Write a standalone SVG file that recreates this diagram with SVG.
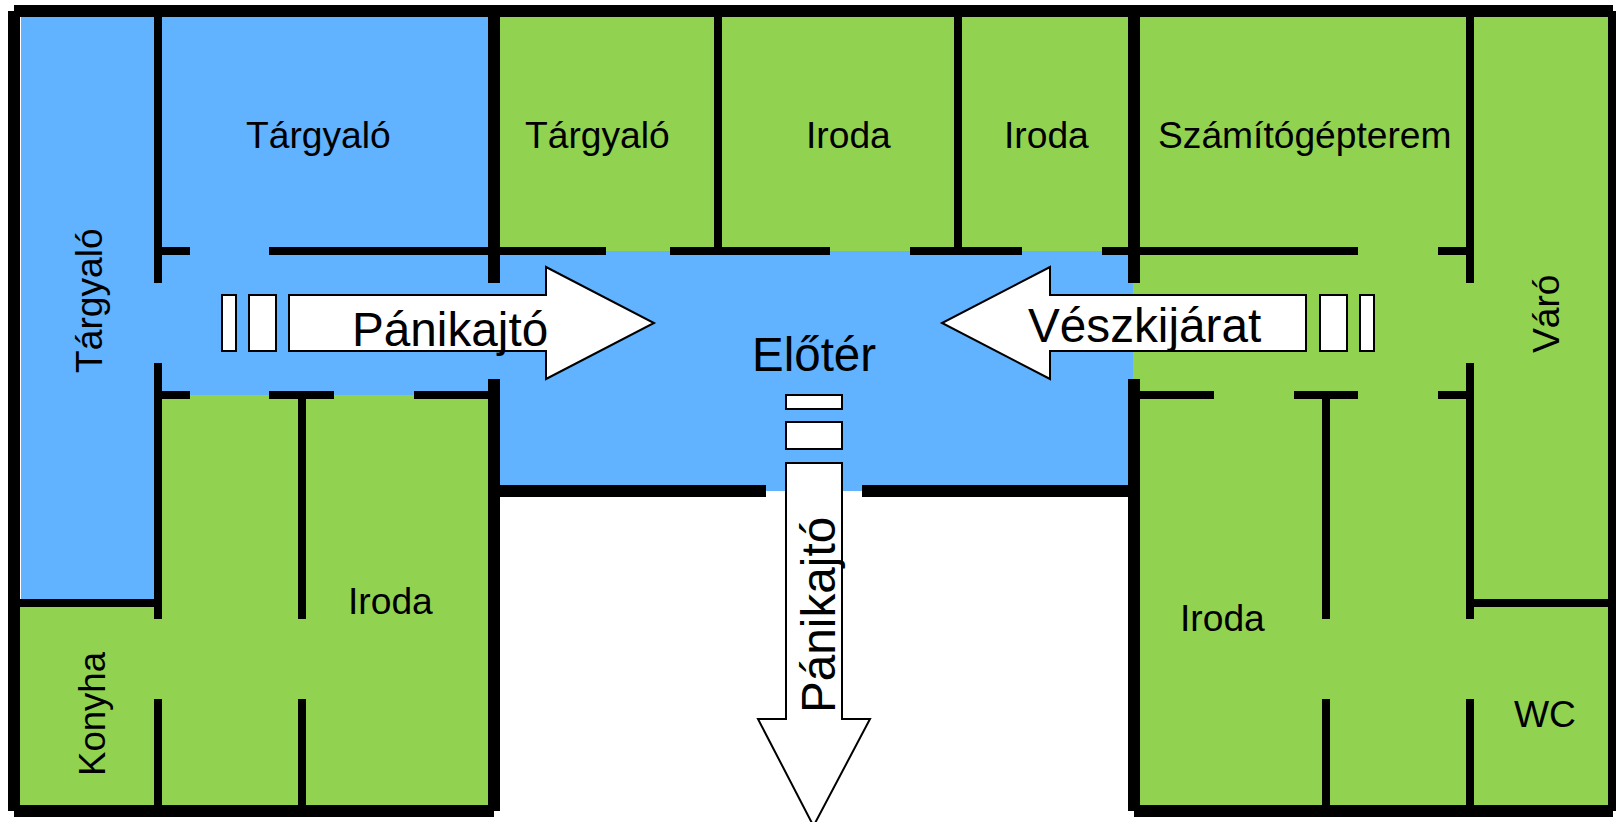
<svg xmlns="http://www.w3.org/2000/svg" width="1616" height="822" viewBox="0 0 1616 822">
<style>
.blue{fill:#61b2ff}
.green{fill:#92d251}
.wall{fill:#000}
.shape{fill:#fff;stroke:#000;stroke-width:2}
text{font-family:"Liberation Sans",Arial,sans-serif;fill:#000}
.s{font-size:37.2px}
.l{font-size:47.7px}
</style>
<rect width="1616" height="822" fill="#fff"/>
<g id="floors">
<rect class="green" x="488" y="17" width="1120" height="234"/>
<rect class="green" x="1133" y="251" width="475" height="554"/>
<rect class="green" x="162" y="395" width="326" height="410"/>
<rect class="green" x="20" y="599" width="142" height="206"/>
<rect class="blue" x="21" y="17" width="133" height="582"/>
<rect class="blue" x="154" y="17" width="346" height="378"/>
<rect class="blue" x="488" y="251" width="645" height="144"/>
<rect class="blue" x="500" y="395" width="628" height="96"/>
<rect class="blue" x="1128" y="379" width="5" height="16"/>
</g>
<g id="walls">
<rect class="wall" x="14" y="5" width="1599" height="12"/>
<rect class="wall" x="8" y="11" width="12" height="800"/>
<rect class="wall" x="1608" y="11" width="8" height="800"/>
<rect class="wall" x="14" y="805" width="480" height="12"/>
<rect class="wall" x="1134" y="805" width="479" height="12"/>
<rect class="wall" x="488" y="11" width="12" height="272"/>
<rect class="wall" x="488" y="379" width="12" height="432"/>
<rect class="wall" x="1128" y="11" width="12" height="272"/>
<rect class="wall" x="1128" y="379" width="12" height="432"/>
<rect class="wall" x="154" y="17" width="8" height="266"/>
<rect class="wall" x="154" y="363" width="8" height="256"/>
<rect class="wall" x="154" y="699" width="8" height="106"/>
<rect class="wall" x="298" y="399" width="8" height="220"/>
<rect class="wall" x="298" y="699" width="8" height="106"/>
<rect class="wall" x="1322" y="399" width="8" height="220"/>
<rect class="wall" x="1322" y="699" width="8" height="106"/>
<rect class="wall" x="1466" y="17" width="8" height="266"/>
<rect class="wall" x="1466" y="363" width="8" height="256"/>
<rect class="wall" x="1466" y="699" width="8" height="106"/>
<rect class="wall" x="714" y="17" width="8" height="234"/>
<rect class="wall" x="954" y="17" width="8" height="234"/>
<rect class="wall" x="20" y="599" width="134" height="8"/>
<rect class="wall" x="1474" y="599" width="134" height="8"/>
<rect class="wall" x="162" y="247" width="28" height="8"/>
<rect class="wall" x="269" y="247" width="337" height="8"/>
<rect class="wall" x="670" y="247" width="160" height="8"/>
<rect class="wall" x="910" y="247" width="112" height="8"/>
<rect class="wall" x="1102" y="247" width="256" height="8"/>
<rect class="wall" x="1438" y="247" width="28" height="8"/>
<rect class="wall" x="162" y="391" width="28" height="8"/>
<rect class="wall" x="269" y="391" width="65" height="8"/>
<rect class="wall" x="414" y="391" width="74" height="8"/>
<rect class="wall" x="1140" y="391" width="74" height="8"/>
<rect class="wall" x="1294" y="391" width="64" height="8"/>
<rect class="wall" x="1438" y="391" width="28" height="8"/>
<rect class="wall" x="500" y="485" width="266" height="12"/>
<rect class="wall" x="862" y="485" width="266" height="12"/>
</g>
<g id="exit-left">
<rect class="shape" x="222" y="295" width="14" height="56"/>
<rect class="shape" x="249" y="295" width="27" height="56"/>
<polygon class="shape" points="289,295 546,295 546,267 654,323 546,379 546,351 289,351"/>
<text class="l" x="352" y="346">Pánikajtó</text>
</g>
<g id="exit-right">
<rect class="shape" x="1360" y="295" width="14" height="56"/>
<rect class="shape" x="1320" y="295" width="27" height="56"/>
<polygon class="shape" points="1306,295 1050,295 1050,267 942,323 1050,379 1050,351 1306,351"/>
<text class="l" x="1028" y="342">Vészkijárat</text>
</g>
<g id="exit-down">
<rect class="shape" x="786" y="395" width="56" height="14"/>
<rect class="shape" x="786" y="422" width="56" height="27"/>
<polygon class="shape" points="786,463 842,463 842,719 870,719 813.5,826 758,719 786,719"/>
<text class="l" transform="translate(835,713) rotate(-90)">Pánikajtó</text>
</g>
<g id="labels">
<text class="s" x="246" y="148">Tárgyaló</text>
<text class="s" x="525" y="148">Tárgyaló</text>
<text class="s" x="806" y="148">Iroda</text>
<text class="s" x="1004" y="148">Iroda</text>
<text class="s" x="1158" y="148">Számítógépterem</text>
<text class="s" transform="translate(102,373) rotate(-90)">Tárgyaló</text>
<text class="s" transform="translate(1559,353) rotate(-90)">Váró</text>
<text class="s" style="font-size:36.6px" transform="translate(105,776) rotate(-90)">Konyha</text>
<text class="s" x="348" y="614">Iroda</text>
<text class="s" x="1180" y="631">Iroda</text>
<text class="s" x="1514" y="727">WC</text>
<text class="l" x="752" y="371" style="font-size:47.5px">Előtér</text>
</g>
</svg>
